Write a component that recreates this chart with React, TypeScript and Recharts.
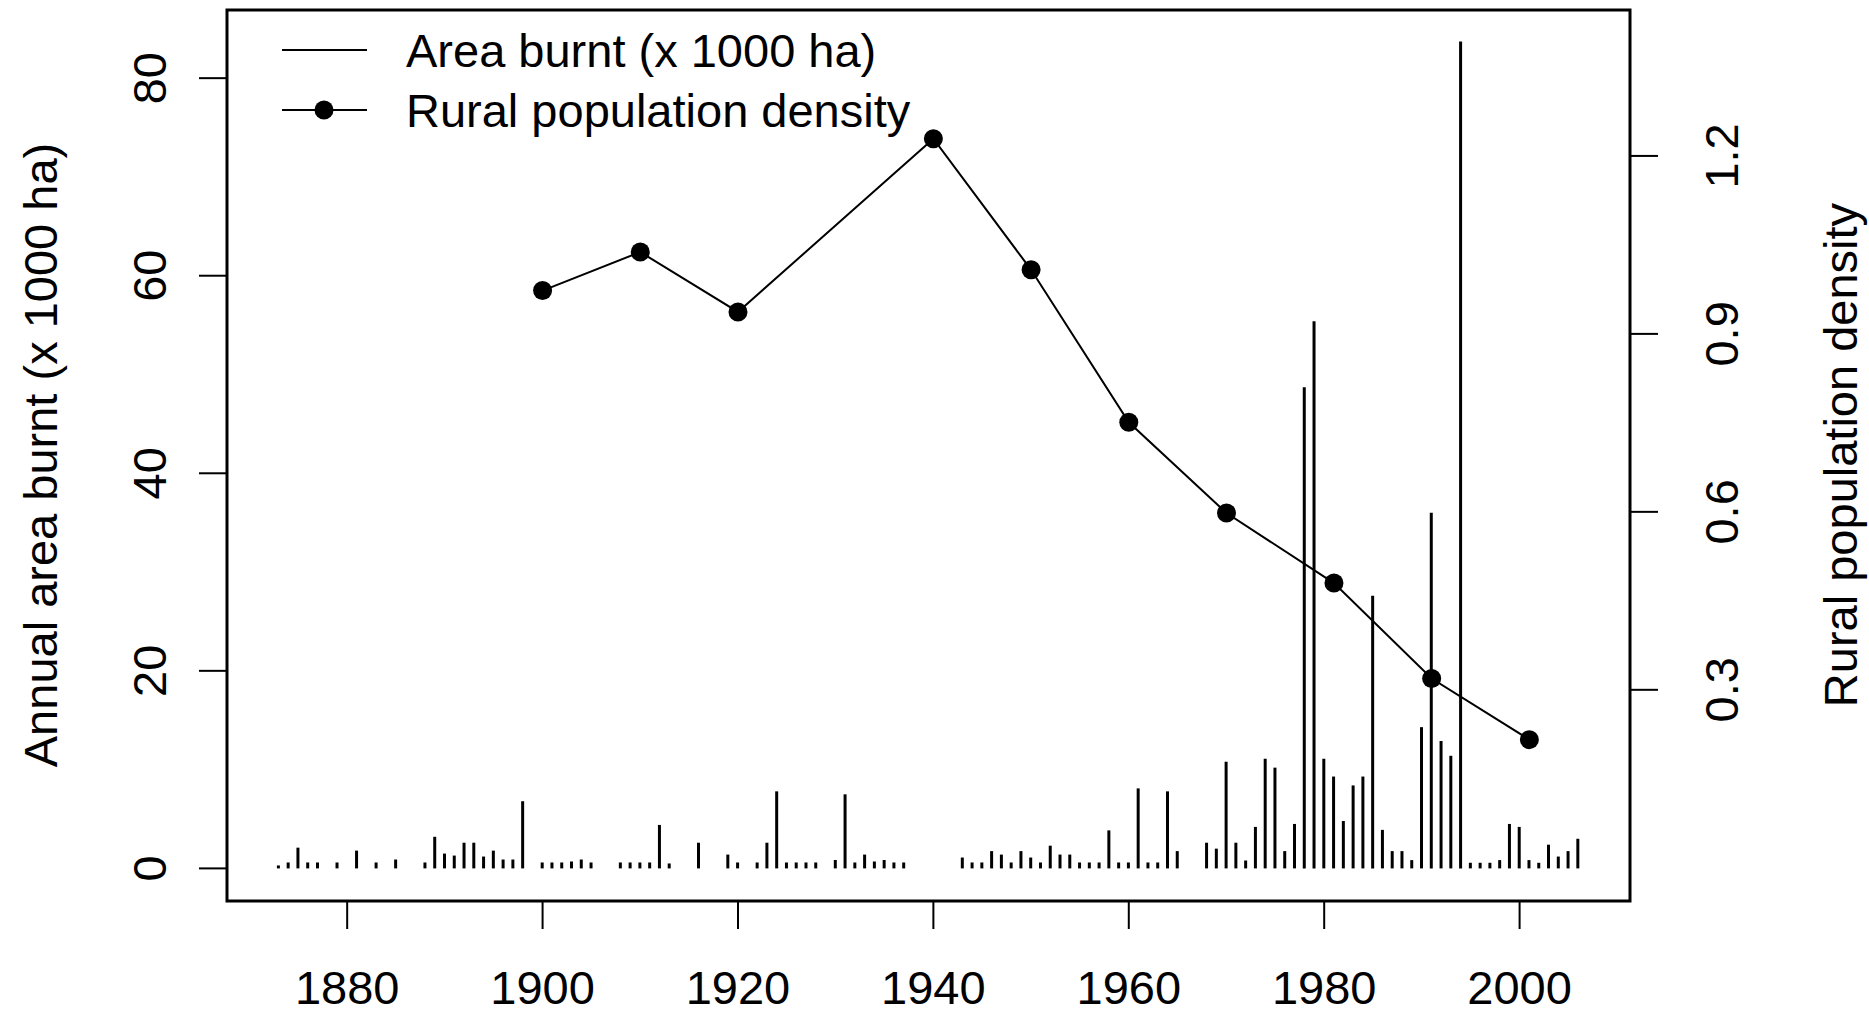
import { ComposedChart, Bar, Line, XAxis, YAxis, ReferenceArea, Legend } from "recharts";

// annual area burnt (x 1000 ha), only years with a recorded fire
const burnYears = [
  1873, 1874, 1875, 1876, 1877, 1879, 1881, 1883, 1885, 1888, 1889, 1890, 1891, 1892, 1893, 1894, 1895,
  1896, 1897, 1898, 1900, 1901, 1902, 1903, 1904, 1905, 1908, 1909, 1910, 1911, 1912, 1913, 1916, 1919,
  1920, 1922, 1923, 1924, 1925, 1926, 1927, 1928, 1930, 1931, 1932, 1933, 1934, 1935, 1936, 1937, 1943,
  1944, 1945, 1946, 1947, 1948, 1949, 1950, 1951, 1952, 1953, 1954, 1955, 1956, 1957, 1958, 1959, 1960,
  1961, 1962, 1963, 1964, 1965, 1968, 1969, 1970, 1971, 1972, 1973, 1974, 1975, 1976, 1977, 1978, 1979,
  1980, 1981, 1982, 1983, 1984, 1985, 1986, 1987, 1988, 1989, 1990, 1991, 1992, 1993, 1994, 1995, 1996,
  1997, 1998, 1999, 2000, 2001, 2002, 2003, 2004, 2005, 2006,
];
const burnArea = [
  0.3, 0.6, 2.1, 0.6, 0.6, 0.6, 1.8, 0.6, 0.9, 0.6, 3.2, 1.5, 1.3, 2.6, 2.6, 1.2, 1.8,
  0.9, 0.9, 6.8, 0.6, 0.6, 0.6, 0.7, 0.9, 0.6, 0.6, 0.6, 0.6, 0.6, 4.4, 0.5, 2.6, 1.4,
  0.6, 0.6, 2.6, 7.8, 0.6, 0.6, 0.6, 0.6, 0.85, 7.5, 0.6, 1.4, 0.7, 0.85, 0.6, 0.6, 1.1,
  0.6, 0.6, 1.75, 1.4, 0.6, 1.75, 1.1, 0.6, 2.3, 1.4, 1.4, 0.6, 0.6, 0.6, 3.85, 0.6, 0.6,
  8.1, 0.6, 0.6, 7.8, 1.75, 2.6, 2.0, 10.8, 2.6, 0.8, 4.2, 11.1, 10.2, 1.75, 4.5, 48.7, 55.4,
  11.1, 9.3, 4.8, 8.4, 9.3, 27.6, 3.9, 1.75, 1.75, 0.84, 14.3, 36.0, 12.9, 11.4, 83.7, 0.57, 0.57,
  0.57, 0.84, 4.5, 4.2, 0.84, 0.57, 2.4, 1.2, 1.75, 3.0,
];

// rural population density at census years
const censusYears = [1900, 1910, 1920, 1940, 1950, 1960, 1970, 1981, 1991, 2001];
const ruralDensity = [0.973, 1.038, 0.937, 1.229, 1.008, 0.751, 0.598, 0.48, 0.319, 0.216];

const yearTicks = [1880, 1900, 1920, 1940, 1960, 1980, 2000];
const areaTicks = [0, 20, 40, 60, 80];
const densityTicks = [0.3, 0.6, 0.9, 1.2];

const allYears = Array.from(new Set([...burnYears, ...censusYears])).sort((a, b) => a - b);
const chartData = allYears.map((year) => {
  const i = burnYears.indexOf(year);
  const j = censusYears.indexOf(year);
  return {
    year,
    area: i >= 0 ? burnArea[i] : null,
    density: j >= 0 ? ruralDensity[j] : null,
  };
});

const FONT = '"Liberation Sans", Arial, sans-serif';
const FS = 47;

const XTick = ({ x, payload }: any) => (
  <text x={x} y={1004} textAnchor="middle" fontSize={FS} fontFamily={FONT} fill="#000">
    {payload.value}
  </text>
);

const LeftTick = ({ y, payload }: any) => (
  <text
    x={150}
    y={y}
    transform={`rotate(-90 150 ${y})`}
    textAnchor="middle"
    dominantBaseline="central"
    fontSize={FS}
    fontFamily={FONT}
    fill="#000"
  >
    {payload.value}
  </text>
);

const RightTick = ({ y, payload }: any) => (
  <text
    x={1722}
    y={y}
    transform={`rotate(-90 1722 ${y})`}
    textAnchor="middle"
    dominantBaseline="central"
    fontSize={FS}
    fontFamily={FONT}
    fill="#000"
  >
    {Number(payload.value).toFixed(1)}
  </text>
);

const axisTitle = (text: string, cx: number) => () => (
  <text
    x={cx}
    y={455}
    transform={`rotate(-90 ${cx} 455)`}
    textAnchor="middle"
    dominantBaseline="central"
    fontSize={FS}
    fontFamily={FONT}
    fill="#000"
  >
    {text}
  </text>
);

const LegendBox = () => (
  <svg width={1100} height={150} style={{ display: "block" }}>
    <line x1={282} x2={367} y1={50} y2={50} stroke="#000" strokeWidth={2} />
    <text x={406} y={50} dominantBaseline="central" fontSize={FS} fontFamily={FONT} fill="#000">
      Area burnt (x 1000 ha)
    </text>
    <line x1={282} x2={367} y1={110} y2={110} stroke="#000" strokeWidth={2} />
    <circle cx={324} cy={110} r={9.5} fill="#000" />
    <text x={406} y={110} dominantBaseline="central" fontSize={FS} fontFamily={FONT} fill="#000">
      Rural population density
    </text>
  </svg>
);

export default function App() {
  return (
    <div style={{ position: "absolute", left: 0, top: 0, width: 1869, height: 1015, background: "#fff" }}>
      <ComposedChart
        width={1869}
        height={1015}
        data={chartData}
        margin={{ top: 10, right: 0, bottom: 0, left: 0 }}
      >
        <XAxis
          dataKey="year"
          type="number"
          scale="linear"
          domain={[1867.7, 2011.3]}
          allowDataOverflow
          ticks={yearTicks}
          height={114}
          axisLine={false}
          tickSize={28}
          tickLine={{ stroke: "#000", strokeWidth: 2 }}
          tick={<XTick />}
        />
        <YAxis
          yAxisId="left"
          type="number"
          domain={[-3.3, 86.9]}
          allowDataOverflow
          ticks={areaTicks}
          width={227}
          axisLine={false}
          tickSize={28}
          tickLine={{ stroke: "#000", strokeWidth: 2 }}
          tick={<LeftTick />}
          label={{ value: "Annual area burnt (x 1000 ha)", content: axisTitle("Annual area burnt (x 1000 ha)", 40) }}
        />
        <YAxis
          yAxisId="right"
          orientation="right"
          type="number"
          domain={[-0.056, 1.446]}
          allowDataOverflow
          ticks={densityTicks}
          width={239}
          axisLine={false}
          tickSize={28}
          tickLine={{ stroke: "#000", strokeWidth: 2 }}
          tick={<RightTick />}
          label={{ value: "Rural population density", content: axisTitle("Rural population density", 1840) }}
        />
        <Legend
          layout="horizontal"
          verticalAlign="middle"
          align="center"
          wrapperStyle={{ left: 0, top: 0, width: 1100, height: 150 }}
          content={<LegendBox />}
        />
        <Bar
          yAxisId="left"
          dataKey="area"
          name="Area burnt (x 1000 ha)"
          fill="#000"
          barSize={3}
          isAnimationActive={false}
        />
        <Line
          yAxisId="right"
          dataKey="density"
          name="Rural population density"
          type="linear"
          stroke="#000"
          strokeWidth={2}
          connectNulls
          dot={{ r: 9.5, fill: "#000", stroke: "#000", strokeWidth: 0 }}
          activeDot={false}
          isAnimationActive={false}
        />
        <ReferenceArea
          yAxisId="left"
          x1={1867.7}
          x2={2011.3}
          y1={-3.3}
          y2={86.9}
          fill="none"
          stroke="#000"
          strokeWidth={3}
          ifOverflow="visible"
        />
      </ComposedChart>
    </div>
  );
}
